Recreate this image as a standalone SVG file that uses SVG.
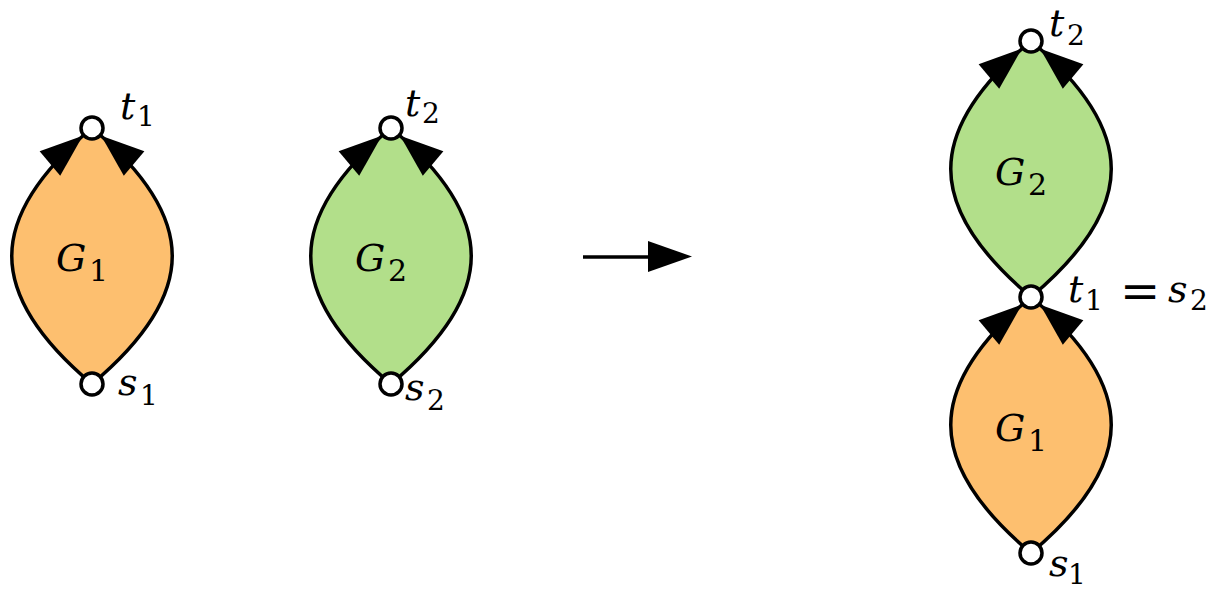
<svg xmlns="http://www.w3.org/2000/svg" width="1220" height="590" viewBox="0 0 1220 590">
<style>
.edge{fill:none;stroke:#000;stroke-width:3.5}
.vert{fill:#fff;stroke:#000;stroke-width:3.5}
.or{fill:#fdbf6f}
.gr{fill:#b2df8a}
text{font-family:'DejaVu Serif','Liberation Serif',serif;fill:#000}
.it{font-style:italic;font-size:38px}
.big{font-style:italic;font-size:38px}
.sub{font-size:28px}
.gsub{font-size:30px}
.eq{font-size:48px}
</style>
<defs>
<marker id="ah" markerUnits="userSpaceOnUse" viewBox="0 0 56 32" markerWidth="56" markerHeight="32" refX="55" refY="16" orient="auto" overflow="visible">
<path d="M0,0 L43,16 L0,32 Z" fill="#000"/>
</marker>
</defs>
<rect width="1220" height="590" fill="#fff"/>

<g id="lens-G1-left">
<path class="or" d="M92,384 C-15,294 -15,218 92,128 C199,218 199,294 92,384 Z"/>
<text class="big" x="56" y="271">G</text><text class="gsub" x="89" y="281">1</text>
</g>
<g id="lens-G2-mid">
<path class="gr" d="M391,384 C284,294 284,218 391,128 C498,218 498,294 391,384 Z"/>
<text class="big" x="355" y="271">G</text><text class="gsub" x="388" y="281">2</text>
</g>
<g id="lens-G2-right">
<path class="gr" d="M1031,297 C924,207 924,131 1031,41 C1138,131 1138,207 1031,297 Z"/>
<text class="big" x="995" y="185">G</text><text class="gsub" x="1028" y="195">2</text>
</g>
<g id="lens-G1-right">
<path class="or" d="M1031,553 C924,463 924,387 1031,297 C1138,387 1138,463 1031,553 Z"/>
<text class="big" x="995" y="441">G</text><text class="gsub" x="1028" y="451">1</text>
</g>

<g id="connectors">
<path class="edge" marker-end="url(#ah)" d="M92,384 C-15,294 -15,218 92,128"/>
<path class="edge" marker-end="url(#ah)" d="M92,384 C199,294 199,218 92,128"/>
<path class="edge" marker-end="url(#ah)" d="M391,384 C284,294 284,218 391,128"/>
<path class="edge" marker-end="url(#ah)" d="M391,384 C498,294 498,218 391,128"/>
<path class="edge" marker-end="url(#ah)" d="M1031,297 C924,207 924,131 1031,41"/>
<path class="edge" marker-end="url(#ah)" d="M1031,297 C1138,207 1138,131 1031,41"/>
<path class="edge" marker-end="url(#ah)" d="M1031,553 C924,463 924,387 1031,297"/>
<path class="edge" marker-end="url(#ah)" d="M1031,553 C1138,463 1138,387 1031,297"/>
<line x1="583" y1="257" x2="652" y2="257" stroke="#000" stroke-width="3.5"/>
<polygon points="648,241 692,256.5 648,272" fill="#000"/>
</g>

<g id="t1-left">
<circle class="vert" cx="92" cy="128" r="11"/>
<text class="it" x="120" y="119">t</text><text class="sub" x="137" y="126">1</text>
</g>
<g id="s1-left">
<circle class="vert" cx="92" cy="384" r="11"/>
<text class="it" x="118" y="395">s</text><text class="sub" x="140" y="405">1</text>
</g>
<g id="t2-mid">
<circle class="vert" cx="391" cy="128" r="11"/>
<text class="it" x="405" y="116">t</text><text class="sub" x="422" y="123">2</text>
</g>
<g id="s2-mid">
<circle class="vert" cx="391" cy="384" r="11"/>
<text class="it" x="405" y="400">s</text><text class="sub" x="427" y="410">2</text>
</g>
<g id="t2-right">
<circle class="vert" cx="1031" cy="41" r="11"/>
<text class="it" x="1049" y="36">t</text><text class="sub" x="1067" y="45">2</text>
</g>
<g id="t1s2-right">
<circle class="vert" cx="1031" cy="297" r="11"/>
<text class="it" x="1068" y="302">t</text><text class="sub" x="1085" y="310">1</text>
<text class="eq" x="1120" y="308">=</text>
<text class="it" x="1168" y="302">s</text><text class="sub" x="1190" y="310">2</text>
</g>
<g id="s1-right">
<circle class="vert" cx="1031" cy="553" r="11"/>
<text class="it" x="1049" y="576">s</text><text class="sub" x="1068" y="584">1</text>
</g>
</svg>
